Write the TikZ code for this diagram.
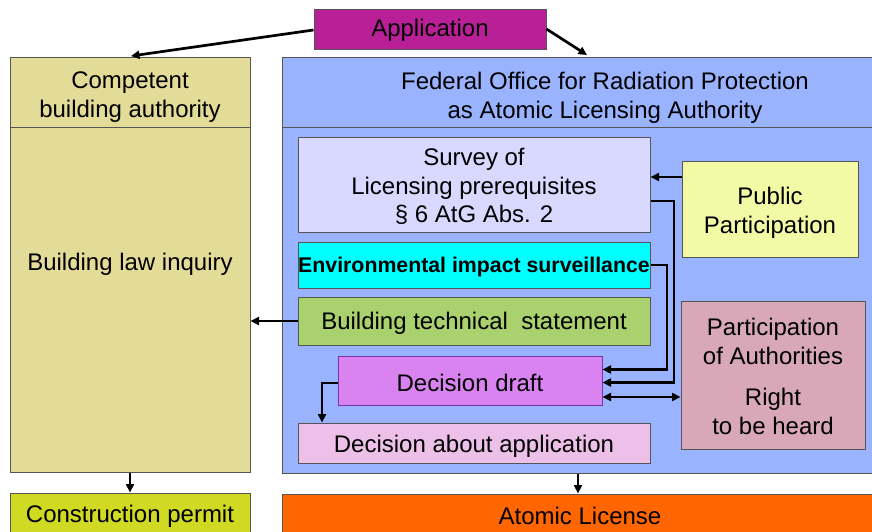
\documentclass[tikz,border=0pt]{standalone}
\usepackage{fontspec}
\setmainfont{Liberation Sans}
\usetikzlibrary{arrows.meta}
\definecolor{appc}{RGB}{185,32,152}
\definecolor{yelc}{RGB}{227,219,152}
\definecolor{bluec}{RGB}{153,179,255}
\definecolor{survc}{RGB}{217,217,255}
\definecolor{envc}{RGB}{0,255,255}
\definecolor{buildc}{RGB}{169,209,110}
\definecolor{draftc}{RGB}{217,131,240}
\definecolor{draftb}{RGB}{120,50,170}
\definecolor{aboutc}{RGB}{236,192,232}
\definecolor{pubc}{RGB}{243,250,166}
\definecolor{partc}{RGB}{216,168,184}
\definecolor{cpermc}{RGB}{208,218,34}
\definecolor{atomc}{RGB}{255,102,0}
\definecolor{bordc}{RGB}{85,85,85}
\tikzset{
  box/.style={draw=bordc, line width=1pt, inner sep=0pt},
  arr/.style={line width=2.7pt, -{Triangle[length=8.5pt,width=8pt]}},
  darr/.style={line width=2.7pt, {Triangle[length=8.5pt,width=8pt]}-{Triangle[length=8.5pt,width=8pt]}},
  txt/.style={inner sep=0pt, align=center, font=\fontsize{24}{28.8}\selectfont}
}
\begin{document}
\begin{tikzpicture}[x=1pt,y=-1pt]
\useasboundingbox (0,0) rectangle (872,531);
\clip (0,0) rectangle (872,531);
\fill[white] (0,0) rectangle (872,531);
% big containers
\node[box, fill=yelc, minimum width=240pt, minimum height=415pt] (yel) at (130,264.5) {};
\node[box, fill=bluec, minimum width=646pt, minimum height=416pt] (blue) at (605,265) {};
\draw[draw=bordc, line width=1pt] (yel.north west) ++(0,71) -- ++(240,0);
\draw[draw=bordc, line width=1pt] (blue.north west) ++(0,71) -- ++(646,0);
\node[txt] (yelhead) at (130,97.5) {Competent\\building authority};
\node[txt] (bluehead) at (605,97.5) {Federal Office for Radiation Protection\\as Atomic Licensing Authority};
\node[txt] (inquiry) at (130,264) {Building law inquiry};
% top
\node[box, fill=appc, minimum width=232pt, minimum height=40pt] (app) at (430,29) {};
\node[txt] (appt) at (430,30.5) {Application};
% inner boxes
\node[box, fill=survc, minimum width=352pt, minimum height=95pt] (survey) at (474,184.5) {};
\node[txt] (surveyt) at (474,186.5) {Survey of\\Licensing prerequisites\\\S{} 6 AtG Abs. 2};
\node[box, fill=envc, minimum width=352pt, minimum height=46pt] (env) at (474,265) {};
\node[txt, font=\fontsize{21.3}{25}\selectfont\bfseries] (envt) at (474,267) {Environmental impact surveillance};
\node[box, fill=buildc, minimum width=352pt, minimum height=48pt] (build) at (474,321) {};
\node[txt] (buildt) at (474,323) {Building technical\ \ statement};
\node[box, draw=draftb, fill=draftc, minimum width=264pt, minimum height=49pt] (draft) at (470,380.5) {};
\node[txt] (draftt) at (470,382.5) {Decision draft};
\node[box, fill=aboutc, minimum width=352pt, minimum height=40pt] (about) at (474,443) {};
\node[txt] (aboutt) at (474,446) {Decision about application};
\node[box, fill=pubc, minimum width=176pt, minimum height=96pt] (public) at (770,209) {};
\node[txt] (publict) at (770,212.5) {Public\\Participation};
\node[box, fill=partc, minimum width=184pt, minimum height=148pt] (partic) at (773,375) {};
\node[txt] (partict) at (773,376.5) {Participation\\of Authorities\\[13pt]Right\\ to be heard};
% bottom
\node[box, fill=cpermc, minimum width=240pt, minimum height=46pt] (cperm) at (130,516) {};
\node[txt] (cpermt) at (130,516.5) {Construction permit};
\node[box, fill=atomc, minimum width=596pt, minimum height=46pt] (atomic) at (580,517) {};
\node[txt] (atomict) at (580,515.5) {Atomic License};
% connectors
\coordinate (appL) at (app.west |- 0,30);
\coordinate (appR) at (app.east |- 0,29);
\draw[arr] (appL) -- (131,56);
\draw[arr] (appR) -- (587,55);
\draw[arr] (public.west |- 0,177) -- (survey.east |- 0,177);
\draw[arr] (survey.east |- 0,201) -| (674,382.5) -- (draft.east |- 0,382.5);
\draw[arr] (env.east |- 0,265) -| (667,369.5) -- (draft.east |- 0,369.5);
\draw[darr] (draft.east |- 0,397) -- (partic.west |- 0,397);
\draw[arr] (build.west) -- (yel.east |- build.west);
\draw[arr] (draft.west |- 0,383) -| (about.north -| 322,0);
\draw[arr] (yel.south) -- (cperm.north);
\draw[arr] (blue.south -| 578,0) -- (atomic.north -| 578,0);
\end{tikzpicture}
\end{document}
